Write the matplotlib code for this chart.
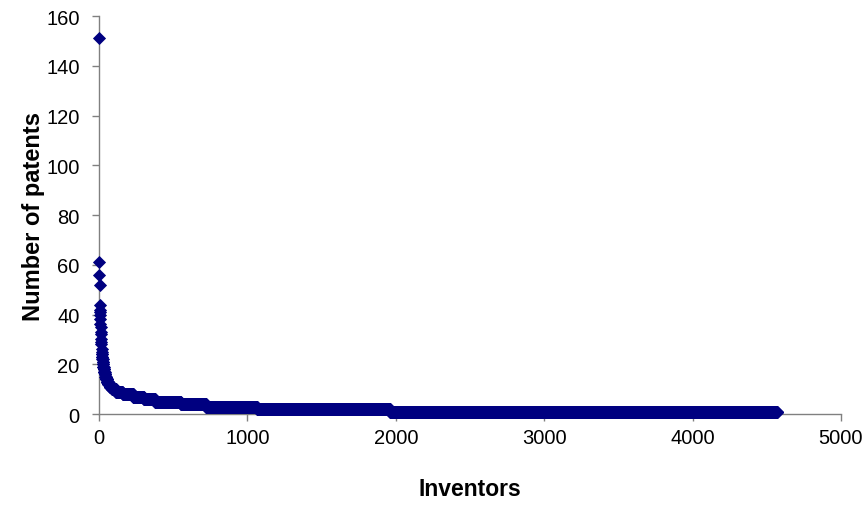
import matplotlib
matplotlib.use('Agg')
import matplotlib.pyplot as plt
import numpy as np

plt.rcParams['font.family'] = ['Liberation Sans', 'DejaVu Sans']

# patents per inventor (descending) and how many inventors have that count
patents = [151, 61, 56, 52, 44, 42, 41, 40, 38, 36, 35, 33, 32, 30, 29, 28,
           26, 25, 24, 23, 22, 21, 20, 19, 18, 17, 16, 15, 14, 13, 12, 11,
           10, 9, 8, 7, 6, 5, 4, 3, 2, 1]
inventors = [1, 1, 1, 1, 1, 1, 1, 1, 1, 1, 1, 1, 1, 1, 1, 1,
             1, 1, 2, 2, 2, 2, 2, 3, 3, 4, 4, 5, 6, 8, 12, 15,
             25, 45, 72, 70, 77, 173, 170, 345, 895, 2610]

y = np.repeat(patents, inventors)
x = np.arange(1, len(y) + 1)

fig = plt.figure(figsize=(8.63, 5.06), dpi=100)
ax = fig.add_axes([0.1147, 0.1798, 0.8598, 0.7866])

ax.plot(x, y, linestyle='none', marker='D', markersize=6.4,
        color='#000080', markeredgecolor='#000080', markeredgewidth=0.6,
        clip_on=False, zorder=3)

ax.set_xlim(0, 5000)
ax.set_ylim(0, 160)
ax.set_xticks(range(0, 5001, 1000))
ax.set_yticks(range(0, 161, 20))

for s in ['top', 'right']:
    ax.spines[s].set_visible(False)
for s in ['left', 'bottom']:
    ax.spines[s].set_color('#808080')
    ax.spines[s].set_linewidth(1.0)

ax.tick_params(axis='both', direction='out', length=5, width=1,
               color='#808080', labelsize=14.5)
ax.tick_params(axis='x', pad=5)
ax.tick_params(axis='y', pad=9)

ax.set_xlabel('Inventors', fontsize=16.5, fontweight='bold', labelpad=22)
ax.set_ylabel('Number of patents', fontsize=17, fontweight='bold', labelpad=1)

fig.savefig('out.png', dpi=100)
